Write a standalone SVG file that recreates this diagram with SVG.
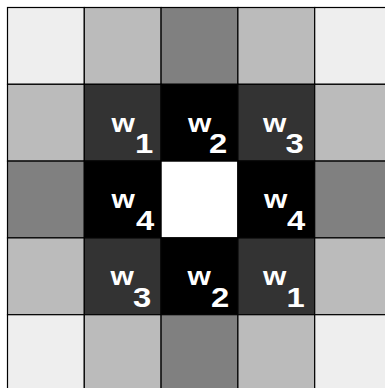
<svg xmlns="http://www.w3.org/2000/svg" width="385" height="388" viewBox="0 0 385 388">
<style>
.c{stroke:#000;stroke-width:1.2}
.a{fill:#eeeeee}.b{fill:#bbbbbb}.m{fill:#808080}.d{fill:#333333}.k{fill:#000000}.z{fill:#ffffff}
.w{font-family:"Liberation Sans",Arial,sans-serif;font-weight:bold;fill:#fff;font-size:30px}
.n{font-family:"Liberation Sans",Arial,sans-serif;font-weight:bold;fill:#fff;font-size:28.5px}
</style>
<rect width="385" height="388" fill="#fff"/>
<g id="grid">
<g id="r0">
<rect class="c a" x="7.5" y="7.5" width="76.8" height="76.8"/>
<rect class="c b" x="84.3" y="7.5" width="76.8" height="76.8"/>
<rect class="c m" x="161.1" y="7.5" width="76.8" height="76.8"/>
<rect class="c b" x="237.9" y="7.5" width="76.8" height="76.8"/>
<rect class="c a" x="314.7" y="7.5" width="76.8" height="76.8"/>
</g>
<g id="r1">
<rect class="c b" x="7.5" y="84.3" width="76.8" height="76.8"/>
<rect class="c d" x="84.3" y="84.3" width="76.8" height="76.8"/>
<rect class="c k" x="161.1" y="84.3" width="76.8" height="76.8"/>
<rect class="c d" x="237.9" y="84.3" width="76.8" height="76.8"/>
<rect class="c b" x="314.7" y="84.3" width="76.8" height="76.8"/>
</g>
<g id="r2">
<rect class="c m" x="7.5" y="161.1" width="76.8" height="76.8"/>
<rect class="c k" x="84.3" y="161.1" width="76.8" height="76.8"/>
<rect class="c z" x="161.1" y="161.1" width="76.8" height="76.8"/>
<rect class="c k" x="237.9" y="161.1" width="76.8" height="76.8"/>
<rect class="c m" x="314.7" y="161.1" width="76.8" height="76.8"/>
</g>
<g id="r3">
<rect class="c b" x="7.5" y="237.9" width="76.8" height="76.8"/>
<rect class="c d" x="84.3" y="237.9" width="76.8" height="76.8"/>
<rect class="c k" x="161.1" y="237.9" width="76.8" height="76.8"/>
<rect class="c d" x="237.9" y="237.9" width="76.8" height="76.8"/>
<rect class="c b" x="314.7" y="237.9" width="76.8" height="76.8"/>
</g>
<g id="r4">
<rect class="c a" x="7.5" y="314.7" width="76.8" height="76.8"/>
<rect class="c b" x="84.3" y="314.7" width="76.8" height="76.8"/>
<rect class="c m" x="161.1" y="314.7" width="76.8" height="76.8"/>
<rect class="c b" x="237.9" y="314.7" width="76.8" height="76.8"/>
<rect class="c a" x="314.7" y="314.7" width="76.8" height="76.8"/>
</g>
</g>
<g id="labels">
<g id="l11"><text class="w" transform="translate(111.5,132) scale(1,0.88)">w</text><text class="n" transform="translate(135,152.5) scale(1.15,1)">1</text></g>
<g id="l12"><text class="w" transform="translate(188,132) scale(1,0.88)">w</text><text class="n" transform="translate(209,152.5) scale(1.15,1)">2</text></g>
<g id="l13"><text class="w" transform="translate(263,132) scale(1,0.88)">w</text><text class="n" transform="translate(285.5,152.5) scale(1.15,1)">3</text></g>
<g id="l21"><text class="w" transform="translate(111.5,208) scale(1,0.88)">w</text><text class="n" transform="translate(136,230.3) scale(1.15,1)">4</text></g>
<g id="l23"><text class="w" transform="translate(264,208) scale(1,0.88)">w</text><text class="n" transform="translate(287,230.3) scale(1.15,1)">4</text></g>
<g id="l31"><text class="w" transform="translate(110.5,285) scale(1,0.88)">w</text><text class="n" transform="translate(133,307) scale(1.15,1)">3</text></g>
<g id="l32"><text class="w" transform="translate(187.5,285) scale(1,0.88)">w</text><text class="n" transform="translate(211,307) scale(1.15,1)">2</text></g>
<g id="l33"><text class="w" transform="translate(263,285) scale(1,0.88)">w</text><text class="n" transform="translate(286.5,307) scale(1.15,1)">1</text></g>
</g>
</svg>
